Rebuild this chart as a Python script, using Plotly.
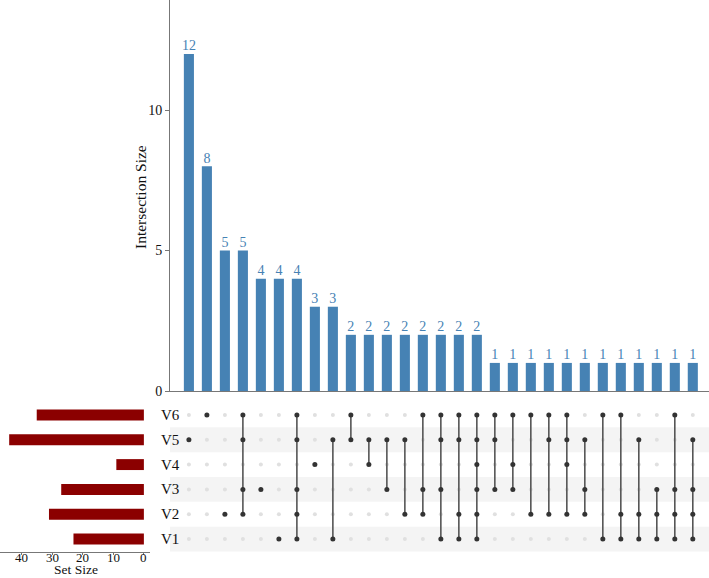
import plotly.graph_objects as go

W, H = 709, 578

# ---- data ----
sets = ["V1", "V2", "V3", "V4", "V5", "V6"]          # bottom -> top
set_sizes = [23, 31, 27, 9, 44, 35]
intersection_sizes = [12, 8, 5, 5, 4, 4, 4, 3, 3,
                      2, 2, 2, 2, 2, 2, 2, 2,
                      1, 1, 1, 1, 1, 1, 1, 1, 1, 1, 1, 1]
memberships = [
    ["V5"], ["V6"], ["V2"], ["V6", "V5", "V3", "V2"], ["V3"], ["V1"],
    ["V6", "V5", "V3", "V2", "V1"], ["V4"], ["V5", "V1"],
    ["V6", "V5"], ["V5", "V4"], ["V5", "V3"], ["V5", "V2"], ["V6", "V3", "V2"],
    ["V6", "V5", "V3", "V1"], ["V6", "V5", "V2", "V1"],
    ["V6", "V5", "V4", "V3", "V2", "V1"],
    ["V6", "V5", "V3"], ["V6", "V4", "V3"], ["V6", "V2"], ["V6", "V5", "V2"],
    ["V6", "V5", "V4", "V2"], ["V5", "V3", "V2"], ["V6", "V1"], ["V6", "V2", "V1"],
    ["V5", "V2", "V1"], ["V3", "V2", "V1"], ["V6", "V3", "V2", "V1"],
    ["V5", "V3", "V2", "V1"],
]
set_size_ticks = [0, 10, 20, 30, 40]
intersection_ticks = [0, 5, 10]

FONT = "Liberation Serif"
BAR_BLUE = "#4682B4"
DARKRED = "#8B0000"
AXIS_COL = "#777777"

ncol = len(intersection_sizes)
cols = list(range(ncol))

def px_x(p):
    return p / W

def px_y(p):
    return 1 - p / H

fig = go.Figure()

# intersection bars
fig.add_trace(go.Bar(
    x=cols, y=intersection_sizes, marker_color=BAR_BLUE, marker_line_width=0,
    width=0.56, xaxis="x", yaxis="y", showlegend=False,
))
# bar value labels
fig.add_trace(go.Scatter(
    x=cols, y=intersection_sizes, mode="text",
    text=[str(v) for v in intersection_sizes], textposition="top center",
    textfont=dict(color=BAR_BLUE, size=14, family=FONT),
    cliponaxis=False, xaxis="x", yaxis="y", showlegend=False, hoverinfo="skip",
))

# matrix: inactive dots
gx, gy = [], []
for c in cols:
    for i, s in enumerate(sets):
        if s not in memberships[c]:
            gx.append(c); gy.append(i)
fig.add_trace(go.Scatter(
    x=gx, y=gy, mode="markers", marker=dict(color="#e0e0e0", size=4),
    xaxis="x", yaxis="y2", showlegend=False, hoverinfo="skip",
))

# matrix: connecting lines
lx, ly = [], []
for c in cols:
    idx = [sets.index(s) for s in memberships[c]]
    if len(idx) > 1:
        lx += [c, c, None]; ly += [min(idx), max(idx), None]
fig.add_trace(go.Scatter(
    x=lx, y=ly, mode="lines", line=dict(color="#555555", width=1.6),
    xaxis="x", yaxis="y2", showlegend=False, hoverinfo="skip",
))

# matrix: active dots
ax_, ay_ = [], []
for c in cols:
    for s in memberships[c]:
        ax_.append(c); ay_.append(sets.index(s))
fig.add_trace(go.Scatter(
    x=ax_, y=ay_, mode="markers", marker=dict(color="#333333", size=5),
    xaxis="x", yaxis="y2", showlegend=False,
))

# set size bars
fig.add_trace(go.Bar(
    x=set_sizes, y=list(range(len(sets))), orientation="h",
    marker_color=DARKRED, marker_line_width=0, width=0.44,
    xaxis="x2", yaxis="y3", showlegend=False,
))

# stripes for alternate rows
shapes = []
for i, s in enumerate(sets):
    if i % 2 == 0:
        shapes.append(dict(type="rect", xref="paper", yref="y2",
                           x0=px_x(170), x1=1, y0=i - 0.5, y1=i + 0.5,
                           fillcolor="#f4f4f4", line_width=0, layer="below"))

annotations = []
for i, s in enumerate(sets):
    annotations.append(dict(text=s, xref="paper", yref="y2", x=px_x(159), y=i,
                            xanchor="left", yanchor="middle", showarrow=False,
                            font=dict(family=FONT, size=15, color="#111111")))
for t in set_size_ticks:
    annotations.append(dict(text=str(t), xref="x2", yref="paper", x=t, y=px_y(557),
                            xanchor="center", yanchor="middle", showarrow=False,
                            borderpad=0,
                            font=dict(family=FONT, size=13, color="#111111")))
annotations.append(dict(text="Set Size", xref="paper", yref="paper",
                        x=px_x(76), y=0, xanchor="center", yanchor="bottom",
                        showarrow=False, borderpad=0,
                        font=dict(family=FONT, size=13.5, color="#111111")))
annotations.append(dict(text="Intersection Size", xref="paper", yref="paper",
                        x=px_x(140), y=px_y(197), textangle=-90,
                        xanchor="center", yanchor="middle", showarrow=False,
                        font=dict(family=FONT, size=15.5, color="#111111")))

matrix_dom = [px_y(552), px_y(403)]
mat_range = [-0.52, 5.48]

fig.update_layout(
    width=W, height=H, margin=dict(l=0, r=0, t=0, b=0, autoexpand=False),
    paper_bgcolor="white", plot_bgcolor="rgba(0,0,0,0)",
    font=dict(family=FONT, size=14, color="#111111"),
    shapes=shapes, annotations=annotations,
    xaxis=dict(domain=[px_x(170), 1], range=[-1.05, 28.9], anchor="y",
               showticklabels=False, ticks="", showgrid=False, zeroline=False,
               showline=True, linecolor=AXIS_COL, linewidth=1, automargin=False),
    yaxis=dict(domain=[px_y(391), 1], range=[0, 13.92], anchor="x",
               tickvals=intersection_ticks, ticks="outside", ticklen=4, tickcolor=AXIS_COL,
               showgrid=False, zeroline=False, showline=True, linecolor=AXIS_COL,
               linewidth=1, tickfont=dict(size=14, family=FONT), automargin=False),
    yaxis2=dict(domain=matrix_dom, range=mat_range, anchor="x",
                showticklabels=False, ticks="", showgrid=False, zeroline=False,
                showline=False, automargin=False),
    xaxis2=dict(domain=[0, px_x(150)], range=[47, -2], anchor="y3",
                tickvals=set_size_ticks, ticks="outside", ticklen=2,
                tickcolor=AXIS_COL, showgrid=False, zeroline=False,
                showline=True, linecolor=AXIS_COL, linewidth=1,
                showticklabels=False, automargin=False),
    yaxis3=dict(domain=matrix_dom, range=mat_range, anchor="x2",
                showticklabels=False, ticks="", showgrid=False, zeroline=False,
                showline=False, automargin=False),
)

fig.write_html("out.html")
